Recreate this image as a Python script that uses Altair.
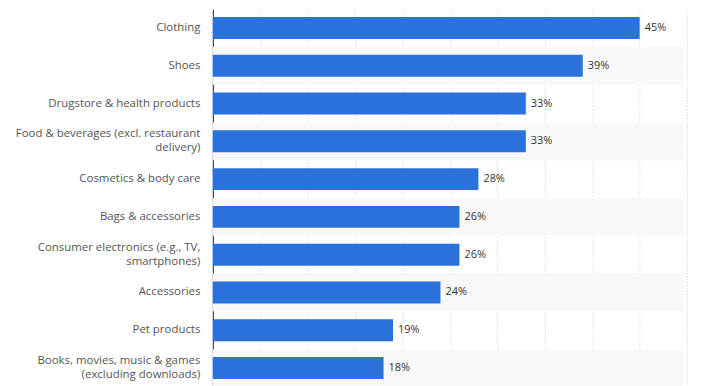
import altair as alt
import pandas as pd

categories = [
    "Clothing",
    "Shoes",
    "Drugstore & health products",
    "Food & beverages (excl. restaurant|delivery)",
    "Cosmetics & body care",
    "Bags & accessories",
    "Consumer electronics (e.g., TV,|smartphones)",
    "Accessories",
    "Pet products",
    "Books, movies, music & games|(excluding downloads)",
]
values = [45, 39, 33, 33, 28, 26, 26, 24, 19, 18]
labels = ["45%", "39%", "33%", "33%", "28%", "26%", "26%", "24%", "19%", "18%"]
striped = [False, True, False, True, False, True, False, True, False, True]

df = pd.DataFrame({"cat": categories, "val": values, "lab": labels, "stripe": striped})

FONT = "Open Sans"

y_enc = alt.Y(
    "cat:N",
    sort=categories,
    title=None,
    scale=alt.Scale(paddingInner=0.42, paddingOuter=0.21),
    axis=alt.Axis(
        labelExpr="split(datum.label, '|')",
        labelFont=FONT,
        labelFontSize=11.5,
        labelColor="#555555",
        labelPadding=13,
        labelLineHeight=14,
        labelLimit=300,
        labelOffset={"condition": {"test": "indexof(datum.value, '|') >= 0", "value": -7}, "value": 0},
        ticks=False,
        domain=True,
        domainColor="#222222",
        domainWidth=1,
        grid=False,
        minExtent=206,
        maxExtent=206,
    ),
)

x_scale = alt.Scale(domain=[0, 50], nice=False)
x_enc = alt.X(
    "val:Q",
    scale=x_scale,
    title=None,
    axis=alt.Axis(
        values=[0, 5, 10, 15, 20, 25, 30, 35, 40, 45, 50],
        grid=True,
        gridColor="#cccccc",
        gridDash=[1, 2],
        gridWidth=1,
        labels=False,
        ticks=False,
        domain=False,
    ),
)

base = alt.Chart(df)

stripes = base.transform_filter("datum.stripe").mark_rule(
    strokeWidth=38, color="#f8f8f8", strokeCap="butt"
).encode(
    y=y_enc,
    x=alt.datum(0, scale=x_scale),
    x2=alt.datum(49.6),
)

grid = base.mark_bar(opacity=0).encode(y=y_enc, x=x_enc)

bars = base.mark_bar(color="#2a72d9").encode(y=y_enc, x=alt.X("val:Q", scale=x_scale))

text = base.mark_text(
    align="left", baseline="middle", dx=5, font=FONT, fontSize=11, color="#333333"
).encode(y=y_enc, x=alt.X("val:Q", scale=x_scale), text="lab:N")

chart = (
    alt.layer(stripes, grid, bars, text)
    .properties(width=477, height=380, padding={"left": 0, "top": 0, "right": 0, "bottom": 0})
    .configure_view(stroke=None)
)

chart.save("out.html", embed_options={"renderer": "svg", "actions": False})
